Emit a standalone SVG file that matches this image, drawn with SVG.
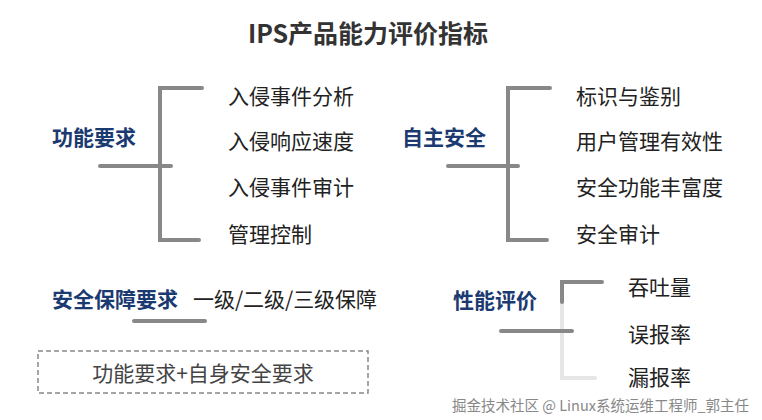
<svg xmlns="http://www.w3.org/2000/svg" width="762" height="420" viewBox="0 0 762 420">
<style>
text{font-family:"Noto Sans CJK SC","Noto Sans",sans-serif;dominant-baseline:central}
.title{font-size:25px;font-weight:bold;fill:#333}
.lab{font-size:21px;font-weight:bold;fill:#1c3a72}
.item{font-size:21px;fill:#222}
.br{fill:none;stroke:#888;stroke-width:4;stroke-linecap:round;stroke-linejoin:miter}
.faint{fill:none;stroke:#e6e6e6;stroke-width:4;stroke-linecap:round}
.wm{font-size:14.5px;fill:#888;stroke:#fff;stroke-width:0.6;paint-order:stroke}
</style>
<rect width="762" height="420" fill="#fff"/>
<text class="title" x="368" y="32" text-anchor="middle">IPS产品能力评价指标</text>
<g id="connectors">
<polyline class="br" points="202,88 160,88 160,240 199,240"/>
<line class="br" x1="100" y1="166" x2="171" y2="166"/>
<polyline class="br" points="550,88 508,88 508,240 547,240"/>
<line class="br" x1="448" y1="166" x2="518" y2="166"/>
<line class="br" x1="134" y1="321" x2="205" y2="321"/>
<polyline class="faint" points="562,302 562,378 595,378"/>
<polyline class="br" points="602,282 562,282 562,302"/>
<line class="br" x1="501" y1="331" x2="572" y2="331"/>
</g>
<g id="func">
<text class="lab" x="52" y="136">功能要求</text>
<text class="item" x="228" y="95">入侵事件分析</text>
<text class="item" x="228" y="140">入侵响应速度</text>
<text class="item" x="228" y="186">入侵事件审计</text>
<text class="item" x="228" y="233">管理控制</text>
</g>
<g id="self">
<text class="lab" x="402" y="136">自主安全</text>
<text class="item" x="576" y="95">标识与鉴别</text>
<text class="item" x="576" y="140">用户管理有效性</text>
<text class="item" x="576" y="186">安全功能丰富度</text>
<text class="item" x="576" y="233">安全审计</text>
</g>
<g id="assurance">
<text class="lab" x="52" y="298">安全保障要求</text>
<text class="item" x="193" y="298" textLength="184" lengthAdjust="spacing">一级/二级/三级保障</text>
</g>
<g id="note">
<rect x="38" y="351" width="330" height="42" fill="none" stroke="#888" stroke-width="1.5" stroke-dasharray="5 3"/>
<text class="item" x="203" y="372" text-anchor="middle" style="fill:#444">功能要求+自身安全要求</text>
</g>
<g id="perf">
<text class="lab" x="453" y="299">性能评价</text>
<text class="item" x="628" y="286">吞吐量</text>
<text class="item" x="628" y="333">误报率</text>
<text class="item" x="628" y="376">漏报率</text>
</g>
<text class="wm" x="452" y="404">掘金技术社区 @ Linux系统运维工程师_郭主任</text>
</svg>
